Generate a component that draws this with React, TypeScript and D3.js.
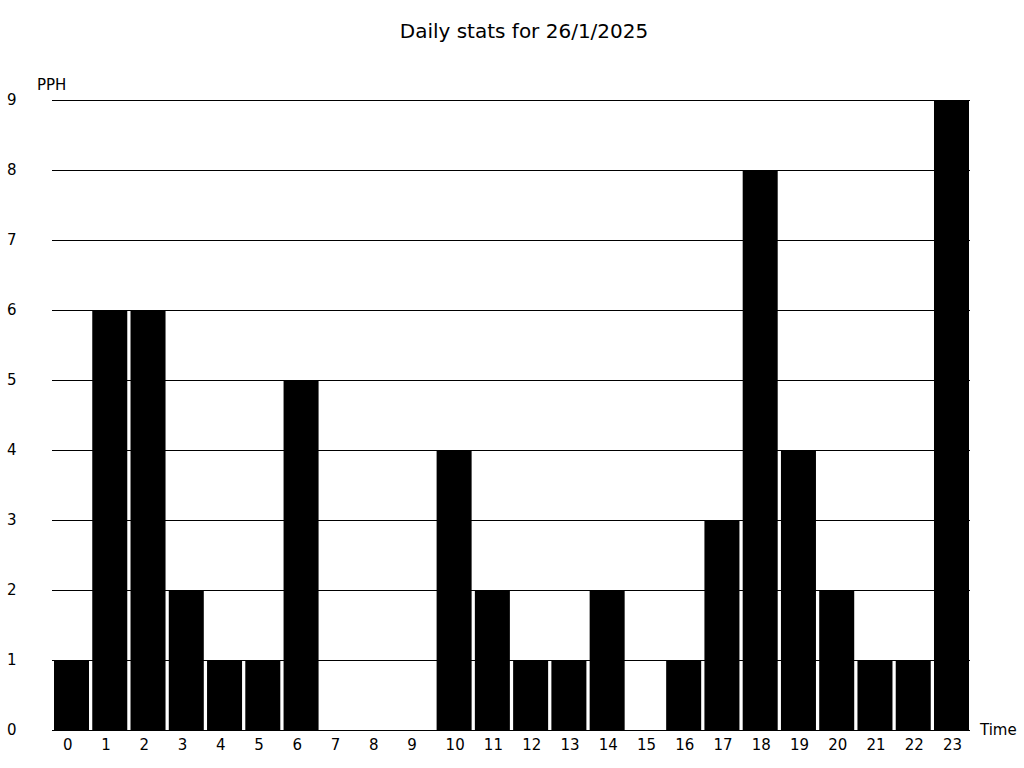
import React from "react";
import * as d3 from "d3";

const hours: string[] = Array.from({ length: 24 }, (_, i) => String(i));
const pph: number[] = [1, 6, 6, 2, 1, 1, 5, 0, 0, 0, 4, 2, 1, 1, 2, 0, 1, 3, 8, 4, 2, 1, 1, 9];
const yTicks: number[] = [0, 1, 2, 3, 4, 5, 6, 7, 8, 9];
const title = "Daily stats for 26/1/2025";

const W = 1024;
const H = 768;
const font = "DejaVu Sans, sans-serif";

export default function App() {
  const x = d3
    .scaleBand<string>()
    .domain(hours)
    .range([54, 969])
    .paddingInner(0.085)
    .paddingOuter(0);
  const y = d3.scaleLinear().domain([0, 9]).range([730, 100]);

  return (
    <svg
      width={W}
      height={H}
      style={{ position: "absolute", left: 0, top: 0, background: "#fff" }}
      fontFamily={font}
    >
      <text x={524} y={31} fontSize={20} textAnchor="middle" dominantBaseline="central" fill="#000">
        {title}
      </text>
      <text x={37} y={85} fontSize={15} dominantBaseline="central" fill="#000">
        PPH
      </text>
      <text x={980} y={730} fontSize={15} dominantBaseline="central" fill="#000">
        Time
      </text>
      {yTicks.map((t) => (
        <g key={t}>
          <line x1={52} x2={970} y1={y(t)} y2={y(t)} stroke="#000" strokeWidth={1} shapeRendering="crispEdges" />
          <text x={7} y={y(t)} fontSize={15} dominantBaseline="central" fill="#000">
            {t}
          </text>
        </g>
      ))}
      {hours.map((h, i) => (
        <rect
          key={h}
          x={x(h)}
          y={y(pph[i])}
          width={x.bandwidth()}
          height={y(0) - y(pph[i])}
          fill="#000"
        />
      ))}
      {hours.map((h) => (
        <text key={h} x={(x(h) as number) + 9} y={745} fontSize={15} dominantBaseline="central" fill="#000">
          {h}
        </text>
      ))}
    </svg>
  );
}
